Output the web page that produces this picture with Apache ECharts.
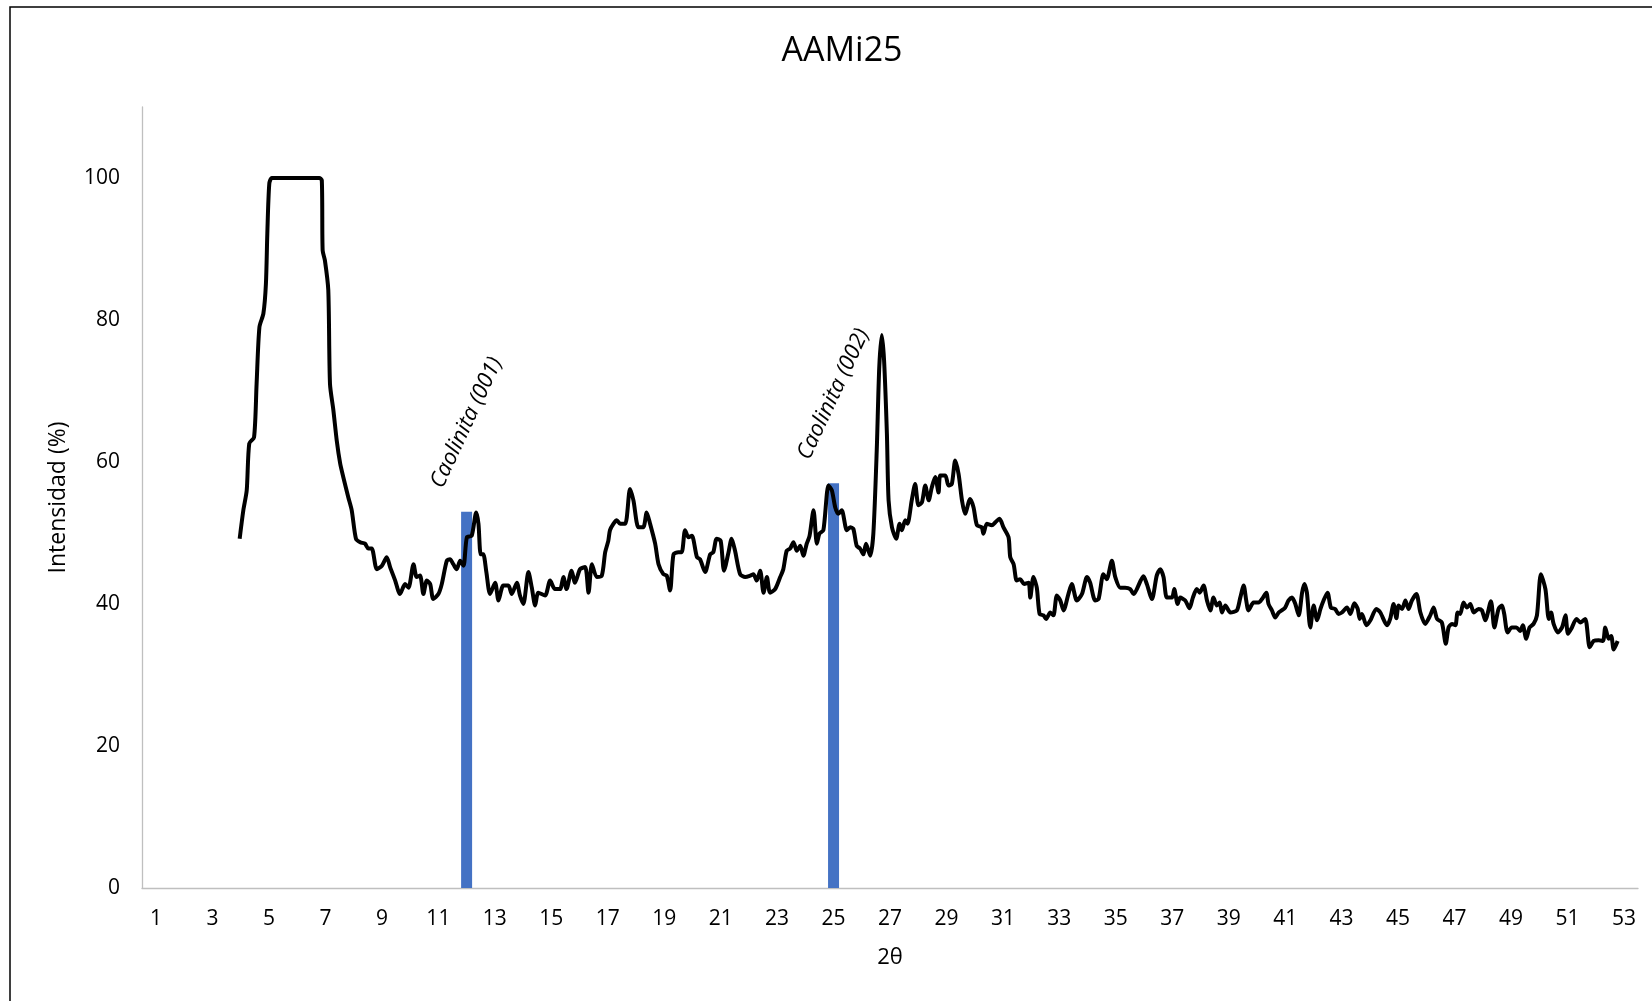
<!DOCTYPE html>
<html>
<head>
<meta charset="utf-8">
<title>AAMi25</title>
<script src="https://cdn.jsdelivr.net/npm/echarts@6/dist/echarts.min.js"></script>
<style>
  html, body { margin: 0; padding: 0; background: #fff; }
  #chart { width: 1652px; height: 1001px; }
</style>
</head>
<body>
<div id="chart"></div>
<script>
// Category tick labels along 2θ
const categories = ['1','2','3','4','5','6','7','8','9','10','11','12','13','14','15','16','17','18','19','20',
  '21','22','23','24','25','26','27','28','29','30','31','32','33','34','35','36','37','38','39','40',
  '41','42','43','44','45','46','47','48','49','50','51','52','53'];

// Reference peak markers (kaolinite reflections)
const peakPositions = ['12', '25'];
const peakHeights = [53, 57];
const peakNames = ['Caolinita (001)', 'Caolinita (002)'];

// Diffractogram: 2θ angle and relative intensity (%)
const angles = [
  3.96,4.09,4.21,4.30,4.47,4.56,4.66,4.80,4.89,4.94,5.01,5.10,5.50,6.00,6.50,6.78,6.87,6.90,6.98,7.10,
  7.16,7.28,7.40,7.52,7.63,7.81,7.93,8.08,8.23,8.40,8.52,8.64,8.82,9.00,9.17,9.29,9.47,9.64,9.82,9.94,
  10.12,10.23,10.35,10.47,10.59,10.71,10.82,11.00,11.12,11.30,11.41,11.53,11.65,11.77,11.89,12.01,12.18,12.34,12.42,12.50,
  12.59,12.70,12.83,13.01,13.13,13.30,13.48,13.60,13.78,13.89,14.01,14.19,14.31,14.43,14.54,14.78,14.96,15.13,15.31,15.43,
  15.54,15.72,15.84,16.02,16.20,16.32,16.44,16.61,16.79,16.91,17.02,17.08,17.20,17.32,17.44,17.62,17.79,17.91,18.09,18.26,
  18.38,18.50,18.68,18.80,18.97,19.09,19.21,19.33,19.50,19.62,19.74,19.86,19.98,20.16,20.27,20.45,20.63,20.74,20.86,21.00,
  21.12,21.28,21.39,21.51,21.69,21.87,22.05,22.16,22.28,22.40,22.52,22.64,22.75,22.93,23.11,23.22,23.34,23.46,23.58,23.70,
  23.82,23.93,24.05,24.15,24.29,24.41,24.50,24.64,24.82,24.94,25.06,25.17,25.29,25.47,25.59,25.70,25.82,25.94,26.06,26.15,
  26.30,26.41,26.53,26.62,26.71,26.79,26.89,26.95,27.07,27.22,27.34,27.42,27.54,27.62,27.77,27.89,28.01,28.13,28.25,28.37,
  28.48,28.60,28.72,28.78,28.96,29.07,29.19,29.31,29.43,29.55,29.66,29.84,29.96,30.08,30.25,30.31,30.43,30.61,30.73,30.88,
  31.02,31.20,31.26,31.38,31.49,31.61,31.75,31.91,31.97,32.08,32.20,32.30,32.44,32.53,32.68,32.79,32.91,33.03,33.15,33.32,
  33.44,33.62,33.80,33.98,34.09,34.27,34.39,34.56,34.68,34.86,34.98,35.16,35.33,35.51,35.63,35.98,36.10,36.28,36.45,36.57,
  36.69,36.81,36.99,37.07,37.19,37.28,37.46,37.61,37.73,37.87,37.97,38.11,38.23,38.35,38.46,38.58,38.68,38.76,38.88,39.06,
  39.29,39.41,39.53,39.62,39.70,39.88,40.06,40.18,40.33,40.41,40.53,40.65,40.77,40.88,41.00,41.12,41.24,41.36,41.48,41.60,
  41.68,41.77,41.89,42.01,42.13,42.25,42.36,42.50,42.62,42.77,42.89,43.01,43.19,43.31,43.45,43.57,43.64,43.72,43.88,44.02,
  44.23,44.37,44.61,44.72,44.84,44.94,45.02,45.14,45.26,45.37,45.49,45.65,45.79,45.96,46.14,46.26,46.38,46.55,46.69,46.79,
  46.91,47.03,47.11,47.20,47.32,47.44,47.56,47.68,47.85,47.97,48.09,48.29,48.41,48.56,48.68,48.76,48.88,49.03,49.19,49.33,
  49.42,49.54,49.66,49.80,49.92,50.06,50.22,50.34,50.42,50.51,50.66,50.81,50.93,51.02,51.16,51.32,51.46,51.63,51.79,51.93,
  52.11,52.26,52.34,52.46,52.55,52.64,52.78
];
const intensity = [
  49.2,53.2,56.0,62.6,63.5,71.0,79.0,80.9,85.1,92.2,99.2,100,100,100,100,100,99.7,89.8,88.4,84.2,
  71.0,67.3,63.0,59.8,57.9,55.0,53.2,49.2,48.7,48.5,47.8,47.8,44.9,45.4,46.6,45.2,43.3,41.4,42.8,42.3,
  45.6,43.8,44.0,41.4,43.3,42.8,40.7,41.4,42.8,46.1,46.3,45.6,44.9,46.1,45.4,49.4,49.6,52.9,51.3,47.0,
  47.0,44.5,41.4,43.0,40.5,42.6,42.6,41.4,43.0,41.2,40.0,44.5,42.3,39.8,41.6,41.2,43.3,42.1,42.1,43.8,
  42.1,44.7,43.0,44.9,45.2,41.6,45.6,43.8,44.0,47.3,48.9,50.4,51.3,51.8,51.3,51.3,56.2,54.6,50.8,50.8,
  52.9,51.3,48.5,45.6,44.2,44.0,41.9,47.0,47.3,47.3,50.4,49.4,49.6,46.6,46.3,44.5,47.0,47.3,49.2,48.9,
  44.7,47.3,49.2,47.5,44.2,43.8,44.0,44.2,43.3,44.7,41.6,43.8,41.6,42.1,43.8,44.9,47.5,47.8,48.7,47.5,
  48.2,46.8,48.5,49.6,53.2,48.5,49.9,50.4,56.7,56.0,53.6,52.7,53.2,50.4,50.8,50.6,48.2,47.8,47.0,48.5,
  46.8,49.9,61.6,73.4,77.9,74.3,64.0,54.6,50.8,49.2,51.3,50.4,51.8,51.3,54.6,56.9,53.9,54.3,56.7,54.6,
  56.4,57.9,55.7,58.1,58.1,56.7,56.9,60.2,58.3,54.6,52.7,54.8,53.6,51.1,50.8,49.9,51.3,51.1,51.5,52.0,
  50.8,49.4,46.6,45.6,43.3,43.5,42.8,43.0,40.9,43.8,42.3,38.6,38.4,37.9,38.8,38.4,41.2,40.5,39.1,41.4,
  42.8,40.5,41.4,43.8,43.0,40.5,40.7,44.2,43.5,46.1,43.8,42.3,42.3,42.1,41.4,43.9,42.8,40.7,44.0,44.9,
  43.8,40.9,40.9,42.1,40.0,40.9,40.5,39.4,40.9,42.1,41.6,42.6,40.5,39.1,40.9,39.8,40.2,38.8,39.8,38.8,
  39.1,40.9,42.6,40.5,39.1,40.2,40.2,40.7,41.6,40.0,39.1,38.1,38.8,39.1,39.5,40.5,40.9,40.0,38.4,41.6,
  42.8,41.6,36.7,39.8,37.7,39.3,40.5,41.6,39.5,39.3,38.6,38.8,39.5,38.6,40.1,39.3,37.9,38.6,37.0,37.7,
  39.3,38.8,37.0,37.9,40.0,38.0,39.8,39.3,40.5,39.3,40.5,41.4,38.8,37.2,38.4,39.5,37.9,37.4,34.4,36.7,
  37.2,37.0,38.8,38.6,40.2,39.5,40.0,38.8,39.3,39.1,37.7,40.4,36.7,39.3,39.8,38.6,36.0,36.7,36.7,36.2,
  37.0,35.1,36.7,37.2,38.4,44.2,42.1,37.9,38.8,37.2,36.0,36.7,38.4,35.8,36.7,37.9,37.4,37.9,33.9,34.8,
  34.9,34.8,36.7,35.1,35.5,33.6,34.8
];

const pattern = angles.map((a, i) => [a, intensity[i]]);
const peaks = peakPositions.map((p, i) => [p, peakHeights[i]]);

const FONT = '"Open Sans", "Noto Sans", sans-serif';
const chart = echarts.init(document.getElementById('chart'), null, { renderer: 'canvas' });

chart.setOption({
  animation: false,
  backgroundColor: '#ffffff',
  textStyle: { fontFamily: FONT },
  title: {
    text: 'AAMi25',
    left: 837,
    top: 29,
    textAlign: 'center',
    textStyle: { fontFamily: FONT, fontSize: 34, fontWeight: 'normal', color: '#000' }
  },
  graphic: [{
    type: 'rect',
    silent: true,
    shape: { x: 10, y: 7, width: 1700, height: 1100 },
    style: { fill: 'none', stroke: '#000', lineWidth: 1.5 }
  }],
  grid: { left: 142, right: 14, top: 107, bottom: 113, containLabel: false },
  xAxis: [{
    type: 'category',
    data: categories,
    boundaryGap: true,
    name: '2θ',
    nameLocation: 'middle',
    nameGap: 59,
    nameTextStyle: { fontFamily: FONT, fontSize: 22, color: '#000' },
    axisLine: { lineStyle: { color: '#BFBFBF', width: 1.3 } },
    axisTick: { show: false },
    axisLabel: { interval: 1, margin: 21, fontFamily: FONT, fontSize: 21, color: '#000' },
    splitLine: { show: false }
  }, {
    type: 'value',
    min: 0.5,
    max: 53.5,
    show: false,
    position: 'bottom'
  }],
  yAxis: {
    type: 'value',
    min: 0,
    max: 110,
    interval: 20,
    name: 'Intensidad (%)',
    nameLocation: 'middle',
    nameGap: 72,
    nameTextStyle: { fontFamily: FONT, fontSize: 23, color: '#000' },
    axisLine: { show: true, lineStyle: { color: '#BFBFBF', width: 1.3 } },
    axisTick: { show: false },
    axisLabel: { margin: 22, showMaxLabel: false, fontFamily: FONT, fontSize: 21, color: '#000' },
    splitLine: { show: false }
  },
  series: [{
    type: 'bar',
    xAxisIndex: 0,
    data: peaks,
    barWidth: 11,
    itemStyle: { color: '#4472C4' },
    label: {
      show: true,
      position: 'top',
      distance: 89,
      rotate: 65,
      align: 'center',
      verticalAlign: 'middle',
      fontFamily: FONT,
      fontSize: 22,
      fontStyle: 'italic',
      color: '#000',
      formatter: (p) => peakNames[p.dataIndex]
    }
  }, {
    type: 'line',
    xAxisIndex: 1,
    data: pattern,
    showSymbol: false,
    symbol: 'none',
    smooth: 0.25,
    lineStyle: { color: '#000', width: 4 },
    z: 5
  }]
});
</script>
</body>
</html>
